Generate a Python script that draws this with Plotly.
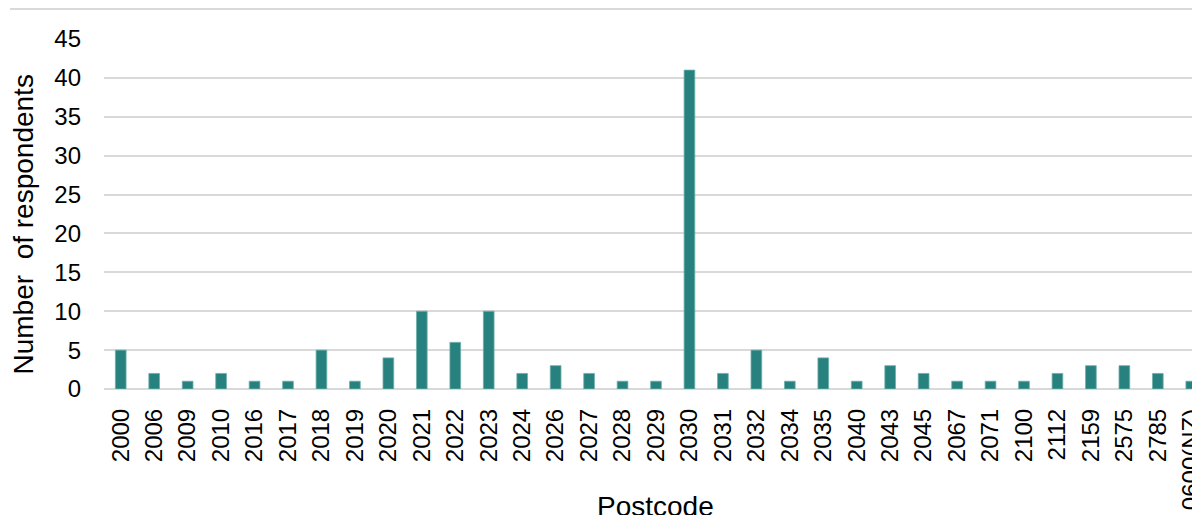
import plotly.graph_objects as go

postcodes = ["2000", "2006", "2009", "2010", "2016", "2017", "2018", "2019", "2020",
             "2021", "2022", "2023", "2024", "2026", "2027", "2028", "2029", "2030",
             "2031", "2032", "2034", "2035", "2040", "2043", "2045", "2067", "2071",
             "2100", "2112", "2159", "2575", "2785", "0600(NZ)"]
respondents = [5, 2, 1, 2, 1, 1, 5, 1, 4, 10, 6, 10, 2, 3, 2, 1, 1, 41,
               2, 5, 1, 4, 1, 3, 2, 1, 1, 1, 2, 3, 3, 2, 1]
y_ticks = [0, 5, 10, 15, 20, 25, 30, 35, 40, 45]

FONT = "Liberation Sans, Arial, sans-serif"
# page has an 8px body offset; figure coordinates below are relative to the figure
W, H = 1200, 515
L, T, B, R = 96, 31, 134, 0
plot_w = W - L - R
plot_h = H - T - B

fig = go.Figure()
fig.add_trace(go.Bar(
    x=postcodes, y=respondents,
    marker=dict(color="#27817e", line=dict(width=0.8, color="#6fb0ad")),
    width=0.32,
))

fig.update_layout(
    width=W, height=H,
    margin=dict(l=L, r=R, t=T, b=B),
    paper_bgcolor="white", plot_bgcolor="white",
    showlegend=False,
    font=dict(family=FONT, color="#000000"),
    xaxis=dict(
        type="category", range=[-0.5, 32.5],
        tickangle=-90, tickfont=dict(size=24, family=FONT, color="#000"),
        showgrid=False, zeroline=False, showline=False, ticks="",
        ticklabelstandoff=14,
    ),
    yaxis=dict(
        range=[0, 45], tickvals=y_ticks,
        tickfont=dict(size=24, family=FONT, color="#000"),
        showgrid=True, gridcolor="#d9d9d9", gridwidth=2,
        zeroline=True, zerolinecolor="#d9d9d9", zerolinewidth=2,
        showline=False, ticks="", ticklabelstandoff=22,
    ),
    annotations=[
        dict(text="Number  of respondents", xref="paper", yref="paper",
             x=(15 - L) / plot_w, y=(381 - 216.5) / plot_h, textangle=-90,
             showarrow=False, xanchor="center", yanchor="middle",
             font=dict(size=28, family=FONT, color="#000")),
        dict(text="Postcode", xref="paper", yref="paper",
             x=(647 - L) / plot_w, y=(381 - 498) / plot_h,
             showarrow=False, xanchor="center", yanchor="middle",
             font=dict(size=28, family=FONT, color="#000")),
    ],
    shapes=[
        dict(type="line", xref="paper", yref="paper",
             x0=(2 - L) / plot_w, x1=1.0, y0=1 + (T - 1) / plot_h, y1=1 + (T - 1) / plot_h,
             line=dict(color="#d9d9d9", width=2)),
    ],
)

fig.write_html("out.html")
